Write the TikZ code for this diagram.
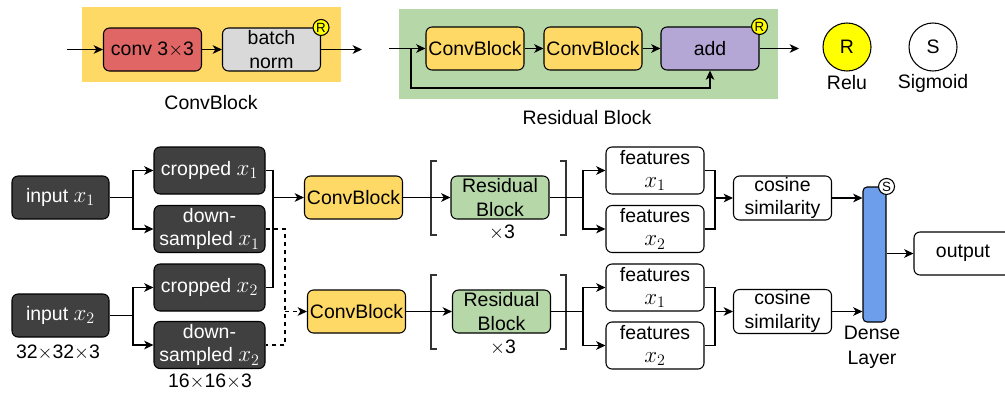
\documentclass[tikz,border=0pt]{standalone}
\usepackage{fontspec}
\setmainfont{Liberation Sans}
\usetikzlibrary{arrows.meta}
\definecolor{cbyellow}{HTML}{FFD966}
\definecolor{convred}{HTML}{E06666}
\definecolor{bngray}{HTML}{D9D9D9}
\definecolor{resgreen}{HTML}{B6D7A8}
\definecolor{addpurple}{HTML}{B4A7D6}
\definecolor{darkbox}{HTML}{404040}
\definecolor{denseblue}{HTML}{6D9EEB}
\definecolor{reluyellow}{HTML}{FFFF00}
\newcommand{\mx}[1]{{\fontsize{17.28}{17.5}\selectfont$x_{#1}$}}

\begin{document}
\begin{tikzpicture}[x=0.75pt,y=-0.75pt,font=\fontsize{14.6}{17.5}\selectfont]
\tikzset{Box/.style={draw, rounded corners=4.5pt, align=center, inner sep=0pt, minimum width=73.5pt, minimum height=32.25pt, line width=0.8pt}}
\tikzset{DarkBox/.style={Box, fill=darkbox, text=white, minimum width=83.25pt, minimum height=35.25pt}}
\tikzset{FeatBox/.style={Box, minimum height=35.25pt}}
\tikzset{Edge/.style={-{Stealth[length=7pt,width=6.5pt,inset=2pt]}, line width=0.9pt}}
\tikzset{Line/.style={line width=0.9pt}}
\tikzset{Act/.style={circle, draw, line width=0.8pt, inner sep=0pt, minimum size=12pt, font=\fontsize{10}{12}\selectfont}}
\tikzset{Bracket/.style={line width=0.8pt, black!80}}
\useasboundingbox (0,0) rectangle (1005,397);

% ConvBlock legend
\fill[cbyellow] (82,7) rectangle (341,82);
\node[Box, fill=convred] (conv) at (152.5,49.5) {conv 3$\times$3};
\node[Box, fill=bngray] (bn) at (271.5,49.5) {batch\\norm};
\node[Act, fill=reluyellow] (bnr) at (bn.north east) {R};
\coordinate (cbin) at (67,49.5);
\coordinate (cbout) at (362,49.5);
\draw[Edge] (cbin) -- (conv);
\draw[Edge] (conv) -- (bn);
\draw[Edge] (bn) -- (cbout);
\node (cblabel) at (211,103) {ConvBlock};

% Residual Block legend
\fill[resgreen] (399,9) rectangle (778,99);
\node[Box, fill=cbyellow] (rcb1) at (475,48.5) {ConvBlock};
\node[Box, fill=cbyellow] (rcb2) at (593,48.5) {ConvBlock};
\node[Box, fill=addpurple] (add) at (710,48.5) {add};
\node[Act, fill=reluyellow] (addr) at (add.north east) {R};
\coordinate (rbin) at (389,48.5);
\coordinate (skip) at (411,48.5);
\coordinate (rbout) at (799,48.5);
\draw[Edge] (rbin) -- (rcb1);
\draw[Edge] (rcb1) -- (rcb2);
\draw[Edge] (rcb2) -- (add);
\draw[Edge] (add) -- (rbout);
\draw[Edge] (skip) -- ++(0,39.5) -| (add.south);
\node (rblabel) at (587,118) {Residual Block};

% activations
\node[Act, fill=reluyellow, minimum size=36pt, font=\fontsize{14.6}{17.5}\selectfont] (relu) at (847,47) {R};
\node (relul) at (847,83) {Relu};
\node[Act, fill=white, minimum size=36pt, font=\fontsize{14.6}{17.5}\selectfont] (sig) at (933,47) {S};
\node (sigl) at (933,83) {Sigmoid};

% inputs
\node[DarkBox, minimum width=72.75pt, minimum height=32.25pt] (in1) at (60.5,197.5) {input \mx{1}};
\node[DarkBox, minimum width=72.75pt, minimum height=32.25pt] (in2) at (60.5,315.5) {input \mx{2}};
\node (in2dim) at (58,352) {32$\times$32$\times$3};
\node[DarkBox] (crop1) at (209.5,170.5) {cropped \mx{1}};
\node[DarkBox] (down1) at (209.5,229) {down-\\sampled \mx{1}};
\node[DarkBox] (crop2) at (209.5,287.5) {cropped \mx{2}};
\node[DarkBox] (down2) at (209.5,345) {down-\\sampled \mx{2}};
\node (down2dim) at (210,381) {16$\times$16$\times$3};
\draw[Line] (in1.east) -- (133,197.5) coordinate (sp1);
\draw[Edge] (sp1) |- (crop1);
\draw[Edge] (sp1) |- (down1);
\draw[Line] (in2.east) -- (133,315.5) coordinate (sp2);
\draw[Edge] (sp2) |- (crop2);
\draw[Edge] (sp2) |- (down2);

% encoders
\node[Box, fill=cbyellow] (cbt) at (353.5,197.5) {ConvBlock};
\node[Box, fill=cbyellow] (cbb) at (356.5,311.5) {ConvBlock};
\draw[Line] (crop1.east) -| (273,287.5) -- (crop2.east);
\draw[Edge] (273,197.5) -- (cbt);
\draw[Line, dashed] (down1.east) -| (285,345) -- (down2.east);
\draw[Edge, dashed] (285,311.5) -- (cbb);

\node[Box, fill=resgreen] (rest) at (500,197.5) {Residual\\Block};
\node (restn) at (502,232) {$\times$3};
\draw[Bracket] (437,161) -- (431,161) -- (431,235) -- (437,235);
\draw[Bracket] (560,161) -- (566,161) -- (566,235) -- (560,235);
\node[Box, fill=resgreen] (resb) at (501.5,311.5) {Residual\\Block};
\node (resbn) at (503,347) {$\times$3};
\draw[Bracket] (437,275) -- (431,275) -- (431,349) -- (437,349);
\draw[Bracket] (560,275) -- (566,275) -- (566,349) -- (560,349);
\draw[Edge] (cbt) -- (rest);
\draw[Edge] (cbb) -- (resb);

% features
\node[FeatBox] (ft1) at (655,170.5) {features\\\mx{1}};
\node[FeatBox] (ft2) at (655,229) {features\\\mx{2}};
\node[FeatBox] (fb1) at (655,287.5) {features\\\mx{1}};
\node[FeatBox] (fb2) at (655,345.5) {features\\\mx{2}};
\draw[Line] (rest.east) -- (583,197.5) coordinate (sp3);
\draw[Edge] (sp3) |- (ft1);
\draw[Edge] (sp3) |- (ft2);
\draw[Line] (resb.east) -- (583,311.5) coordinate (sp4);
\draw[Edge] (sp4) |- (fb1);
\draw[Edge] (sp4) |- (fb2);

% similarity
\node[Box, minimum height=33pt] (cos1) at (782.5,198) {cosine\\similarity};
\node[Box, minimum height=33pt] (cos2) at (782.5,311.5) {cosine\\similarity};
\draw[Line] (ft1.east) -| (715,229) -- (ft2.east);
\draw[Edge] (715,198) -- (cos1);
\draw[Line] (fb1.east) -| (715,345.5) -- (fb2.east);
\draw[Edge] (715,311.5) -- (cos2);

% dense and output
\node[Box, fill=denseblue, rounded corners=3pt, minimum width=17.25pt, minimum height=101.25pt] (dense) at (874.5,254.5) {};
\node[Act, fill=white] (denses) at (dense.north east) {S};
\node[align=center, font=\fontsize{14.6}{19}\selectfont] (densel) at (872,347) {Dense\\Layer};
\draw[Edge] (cos1.east) -- (cos1.east -| dense.west);
\draw[Edge] (cos2.east) -- (cos2.east -| dense.west);
\node[Box] (out) at (963,253.5) {output};
\draw[Edge] (dense.east |- out.west) -- (out.west);
\end{tikzpicture}
\end{document}
